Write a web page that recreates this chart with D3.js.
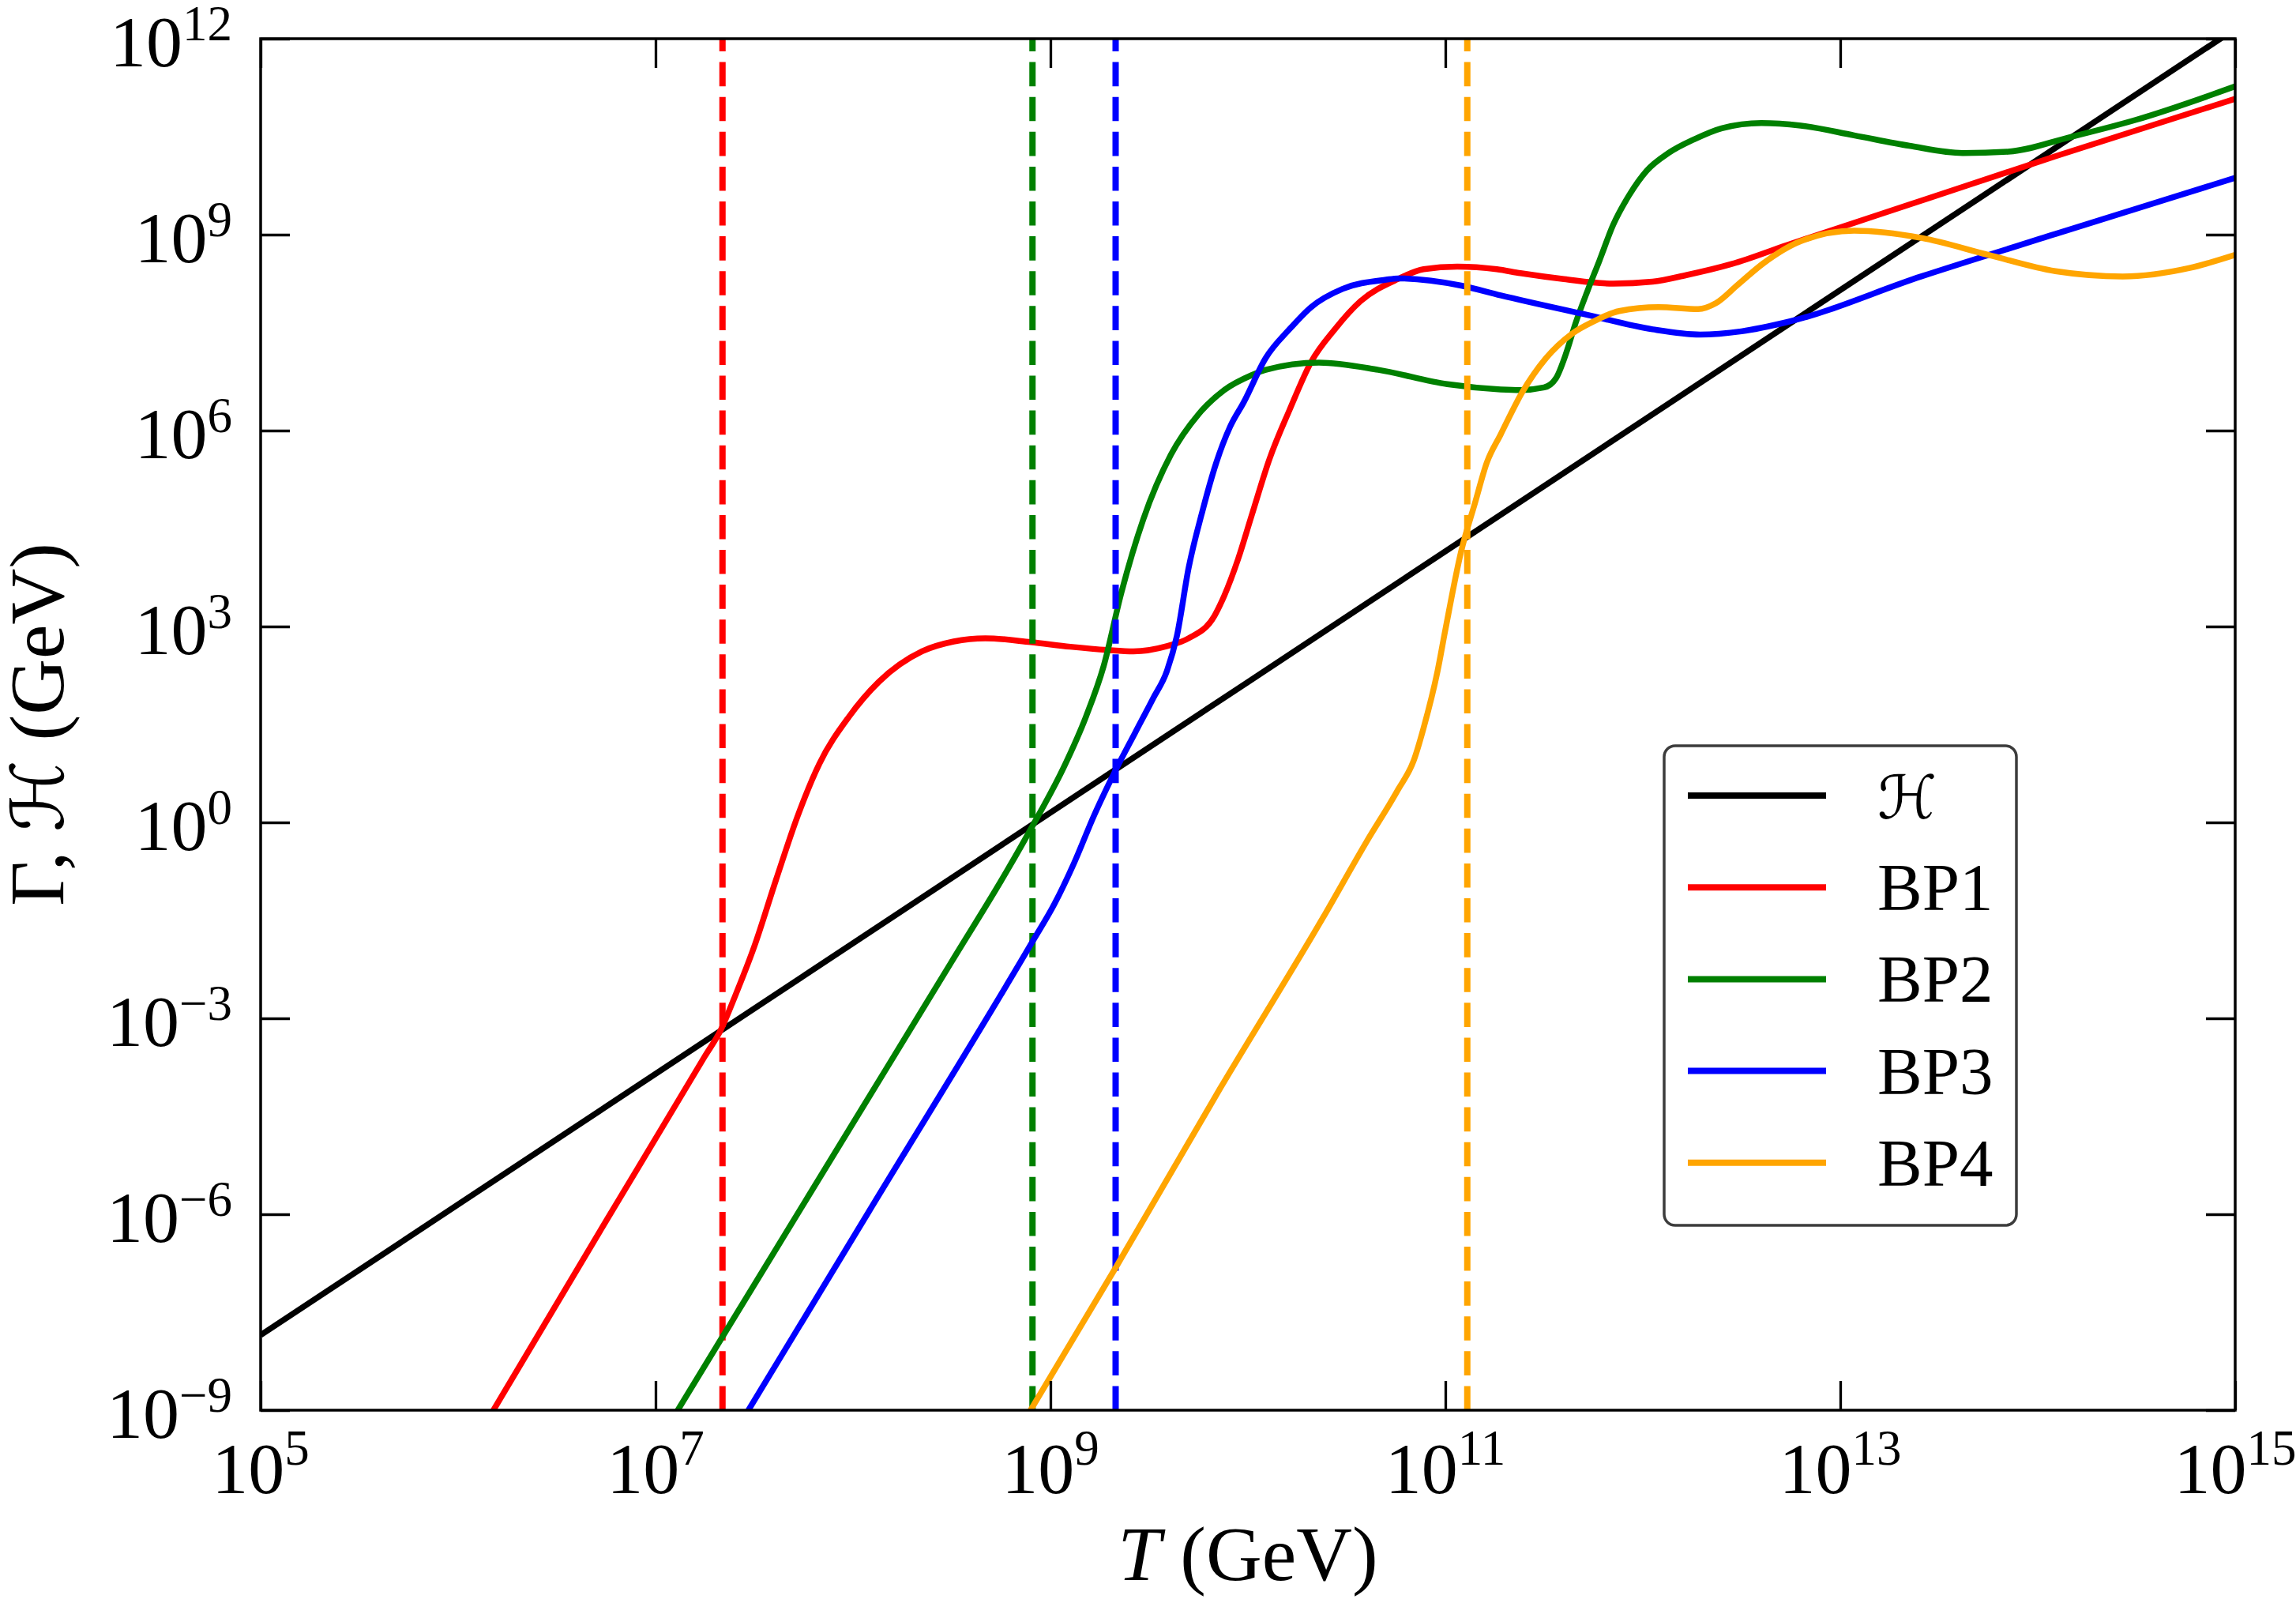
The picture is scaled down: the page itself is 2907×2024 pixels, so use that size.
<!DOCTYPE html>
<html><head><meta charset="utf-8">
<script src="https://cdn.jsdelivr.net/npm/d3@7"></script>
<style>html,body{margin:0;padding:0;background:#fff;} svg{display:block;}</style>
</head><body>
<svg id="chart" width="2907" height="2024"></svg>
<script>
// ---- Data (log10 values) ----
const hLogT   = [5, 10, 15];
const hLogG   = [-7.85, 2.15, 12.15];

const bp1LogT = [6.10, 6.75, 7.05, 7.25, 7.33, 7.40, 7.50, 7.61, 7.72, 7.83, 7.98, 8.13, 8.35, 8.51, 8.67, 8.90, 9.10, 9.29, 9.42, 9.59, 9.70, 9.83, 9.88, 9.95, 10.02, 10.11, 10.21, 10.32, 10.44, 10.57, 10.76, 10.89, 11.06, 11.26, 11.38, 11.60, 11.85, 12.05, 12.22, 12.45, 12.73, 13.41, 14.09, 15.0];
const bp1LogG = [-9.40, -6.10, -4.59, -3.58, -3.18, -2.68, -1.90, -0.88, 0.10, 0.90, 1.62, 2.15, 2.62, 2.77, 2.82, 2.76, 2.69, 2.64, 2.62, 2.70, 2.82, 3.16, 3.47, 4.03, 4.71, 5.57, 6.31, 7.05, 7.55, 7.98, 8.32, 8.47, 8.51, 8.47, 8.41, 8.32, 8.25, 8.28, 8.38, 8.55, 8.84, 9.52, 10.20, 11.08];

const bp2LogT = [7.05, 7.33, 8.08, 8.50, 8.78, 8.91, 9.07, 9.18, 9.27, 9.36, 9.47, 9.61, 9.75, 9.88, 10.02, 10.09, 10.36, 10.66, 11.01, 11.28, 11.38, 11.50, 11.56, 11.61, 11.66, 11.72, 11.78, 11.85, 11.93, 12.02, 12.13, 12.26, 12.40, 12.60, 12.80, 13.07, 13.35, 13.62, 13.85, 14.16, 14.50, 15.0];
const bp2LogG = [-9.31, -7.92, -4.21, -2.13, -0.74, -0.05, 0.86, 1.62, 2.40, 3.53, 4.64, 5.63, 6.25, 6.62, 6.85, 6.93, 7.04, 6.93, 6.71, 6.63, 6.62, 6.66, 6.80, 7.17, 7.65, 8.14, 8.60, 9.15, 9.60, 9.98, 10.25, 10.46, 10.63, 10.71, 10.67, 10.52, 10.36, 10.25, 10.27, 10.49, 10.76, 11.27];

const bp3LogT = [7.40, 8.08, 8.91, 9.02, 9.12, 9.22, 9.33, 9.43, 9.52, 9.59, 9.64, 9.70, 9.77, 9.84, 9.91, 9.98, 10.09, 10.21, 10.32, 10.48, 10.70, 10.76, 11.08, 11.28, 11.72, 12.05, 12.29, 12.50, 12.73, 13.41, 14.09, 15.0];
const bp3LogG = [-9.35, -5.96, -1.82, -1.25, -0.62, 0.10, 0.80, 1.38, 1.90, 2.32, 2.85, 3.90, 4.77, 5.51, 6.06, 6.44, 7.11, 7.55, 7.89, 8.17, 8.31, 8.33, 8.22, 8.07, 7.77, 7.55, 7.47, 7.52, 7.66, 8.36, 9.01, 9.87];

const bp4LogT = [8.83, 9.33, 9.86, 10.38, 10.60, 10.76, 10.84, 10.89, 10.96, 11.00, 11.08, 11.15, 11.21, 11.28, 11.39, 11.51, 11.64, 11.75, 11.88, 12.08, 12.28, 12.37, 12.48, 12.61, 12.80, 13.07, 13.41, 13.75, 14.09, 14.43, 14.77, 15.0];
const bp4LogG = [-9.35, -6.82, -4.07, -1.46, -0.30, 0.50, 0.95, 1.45, 2.31, 2.95, 4.15, 4.89, 5.51, 5.94, 6.59, 7.11, 7.48, 7.67, 7.83, 7.89, 7.86, 7.95, 8.23, 8.56, 8.90, 9.06, 8.95, 8.69, 8.44, 8.36, 8.49, 8.69];

// temperatures where Gamma = H (vertical dashed lines), log10
const crossLogT = [7.339, 8.909, 9.330, 11.111];

const seriesNames  = ["\u210B", "BP1", "BP2", "BP3", "BP4"];
const seriesColors = ["#000000", "#ff0000", "#008000", "#0000ff", "#ffa500"];

const xTickExp = [5, 7, 9, 11, 13, 15];
const yTickExp = [-9, -6, -3, 0, 3, 6, 9, 12];

// ---- Layout ----
const L = 330, R = 2830, T = 49, B = 1785;
const svg = d3.select("#chart");
svg.append("rect").attr("width", 2907).attr("height", 2024).attr("fill", "#fff");

const x = d3.scaleLog().domain([1e5, 1e15]).range([L, R]);
const y = d3.scaleLog().domain([1e-9, 1e12]).range([B, T]);

svg.append("defs").append("clipPath").attr("id", "plotclip")
  .append("rect").attr("x", L).attr("y", T).attr("width", R - L).attr("height", B - T);

const toPts = (lt, lg) => lt.map((v, i) => [Math.pow(10, v), Math.pow(10, lg[i])]);
const series = [
  toPts(hLogT, hLogG),
  toPts(bp1LogT, bp1LogG),
  toPts(bp2LogT, bp2LogG),
  toPts(bp3LogT, bp3LogG),
  toPts(bp4LogT, bp4LogG)
];

const plot = svg.append("g").attr("clip-path", "url(#plotclip)");
const lineSmooth = d3.line().x(d => x(d[0])).y(d => y(d[1])).curve(d3.curveMonotoneX);
const lineStraight = d3.line().x(d => x(d[0])).y(d => y(d[1]));
const LW = 7.5;

// H line
plot.append("path").attr("d", lineStraight(series[0]))
  .attr("fill", "none").attr("stroke", seriesColors[0]).attr("stroke-width", LW);

// BP curves and their dashed lines
for (let i = 1; i < series.length; i++) {
  plot.append("path").attr("d", lineSmooth(series[i]))
    .attr("fill", "none").attr("stroke", seriesColors[i]).attr("stroke-width", LW)
    .attr("stroke-linejoin", "round");
  const tc = Math.pow(10, crossLogT[i - 1]);
  plot.append("line")
    .attr("x1", x(tc)).attr("x2", x(tc))
    .attr("y1", y(1e-9)).attr("y2", y(1e12))
    .attr("stroke", seriesColors[i]).attr("stroke-width", 8)
    .attr("stroke-dasharray", "30.6,13.5");
}

// ---- Axes (inward ticks on all sides) ----
const xTicks = xTickExp.map(e => Math.pow(10, e));
const yTicks = yTickExp.map(e => Math.pow(10, e));
const styleAxis = g => {
  g.select(".domain").remove();
  g.selectAll(".tick line").attr("stroke", "#000").attr("stroke-width", 3.3);
  g.selectAll(".tick text").remove();
};
svg.append("g").attr("transform", `translate(0,${B})`)
  .call(d3.axisBottom(x).tickValues(xTicks).tickSizeInner(-37).tickSizeOuter(0).tickFormat("")).call(styleAxis);
svg.append("g").attr("transform", `translate(0,${T})`)
  .call(d3.axisTop(x).tickValues(xTicks).tickSizeInner(-37).tickSizeOuter(0).tickFormat("")).call(styleAxis);
svg.append("g").attr("transform", `translate(${L},0)`)
  .call(d3.axisLeft(y).tickValues(yTicks).tickSizeInner(-37).tickSizeOuter(0).tickFormat("")).call(styleAxis);
svg.append("g").attr("transform", `translate(${R},0)`)
  .call(d3.axisRight(y).tickValues(yTicks).tickSizeInner(-37).tickSizeOuter(0).tickFormat("")).call(styleAxis);

svg.append("rect").attr("x", L).attr("y", T).attr("width", R - L).attr("height", B - T)
  .attr("fill", "none").attr("stroke", "#000").attr("stroke-width", 3.5);

const FONT = "'Liberation Serif', 'DejaVu Serif', serif";
const supText = e => (e < 0 ? "\u2212" + Math.abs(e) : String(e));
const MAIN = 92, SUP = 63;

// y tick labels
yTickExp.forEach(e => {
  const t = svg.append("text").attr("x", 294).attr("y", y(Math.pow(10, e)) + 35)
    .attr("text-anchor", "end").attr("font-family", FONT).attr("font-size", MAIN).attr("fill", "#000");
  t.append("tspan").text("10");
  t.append("tspan").attr("dy", -33).attr("font-size", SUP).text(supText(e));
});
// x tick labels
xTickExp.forEach(e => {
  const t = svg.append("text").attr("x", x(Math.pow(10, e))).attr("y", 1890)
    .attr("text-anchor", "middle").attr("font-family", FONT).attr("font-size", MAIN).attr("fill", "#000");
  t.append("tspan").text("10");
  t.append("tspan").attr("dy", -36).attr("font-size", SUP).text(supText(e));
});

// axis labels
const xl = svg.append("text").attr("x", (L + R) / 2).attr("y", 2000).attr("text-anchor", "middle")
  .attr("font-family", FONT).attr("font-size", 98).attr("fill", "#000");
xl.append("tspan").attr("font-style", "italic").text("T");
xl.append("tspan").text(" (GeV)");

const yl = svg.append("text").attr("transform", `translate(80,${(T + B) / 2}) rotate(-90)`)
  .attr("text-anchor", "middle").attr("font-family", FONT).attr("font-size", 98).attr("fill", "#000");
yl.append("tspan").text("\u0393, ");
yl.append("tspan").attr("font-family", "'DejaVu Sans', serif").attr("font-size", 92).text("\u210B");
yl.append("tspan").text(" (GeV)");

// ---- Legend ----
const lg = svg.append("g");
lg.append("rect").attr("x", 2107).attr("y", 944).attr("width", 446).attr("height", 607)
  .attr("rx", 14).attr("ry", 14).attr("fill", "#fff").attr("stroke", "#3c3c3c").attr("stroke-width", 3.5);
seriesNames.forEach((name, i) => {
  const ry = 1007 + i * 116.2;
  lg.append("line").attr("x1", 2137).attr("x2", 2312).attr("y1", ry).attr("y2", ry)
    .attr("stroke", seriesColors[i]).attr("stroke-width", 8);
  lg.append("text").attr("x", 2377).attr("y", ry + 29)
    .attr("font-family", i === 0 ? "'DejaVu Sans', serif" : FONT)
    .attr("font-size", i === 0 ? 76 : 85).attr("fill", "#000").text(name);
});
</script>
</body></html>
